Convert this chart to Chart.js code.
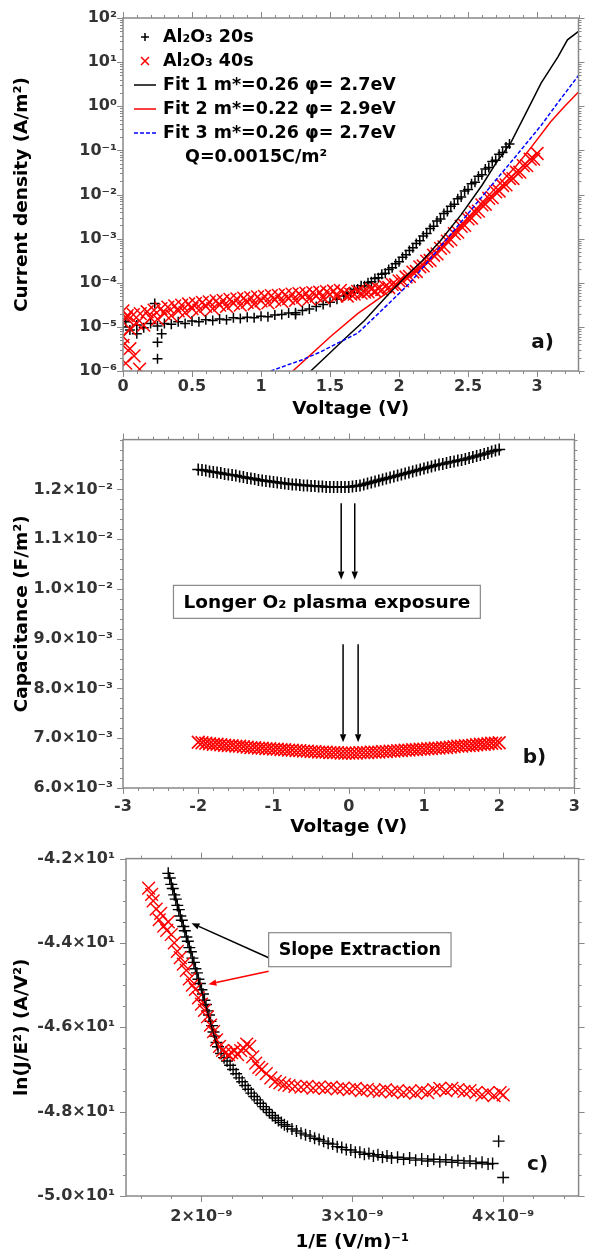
<!DOCTYPE html>
<html>
<head>
<meta charset="utf-8">
<script src="https://cdn.jsdelivr.net/npm/chart.js@4"></script>
<style>
  body { margin: 0; background: #fff; }
  .panel { position: absolute; left: 0; width: 589px; height: 420px; }
</style>
</head>
<body>
<div class="panel" style="top:0"><canvas id="chartA" width="589" height="420"></canvas></div>
<div class="panel" style="top:420px"><canvas id="chartB" width="589" height="420"></canvas></div>
<div class="panel" style="top:838px"><canvas id="chartC" width="589" height="420"></canvas></div>
<script>
// ---- a) J-V, Al2O3 20s / 40s with Fowler-Nordheim fits ----
const vA20 = [0, 0.05, 0.1, 0.15, 0.2, 0.25, 0.3, 0.35, 0.4, 0.45, 0.5, 0.55, 0.6, 0.65, 0.7, 0.75, 0.8, 0.85, 0.9, 0.95,
  1.0, 1.05, 1.1, 1.15, 1.2, 1.25, 1.3, 1.35, 1.4, 1.45, 1.5, 1.55, 1.6, 1.65, 1.7, 1.75, 1.8, 1.85, 1.9, 1.95,
  2.0, 2.05, 2.1, 2.15, 2.2, 2.25, 2.3, 2.35, 2.4, 2.45, 2.5, 2.55, 2.6, 2.65, 2.7, 2.75, 2.8,
  1.625, 1.675, 1.725, 1.775, 1.825, 1.875, 1.925, 1.975, 2.025, 2.075, 2.125, 2.175, 2.225, 2.275, 2.325, 2.375,
  2.425, 2.475, 2.525, 2.575, 2.625, 2.675, 2.725, 2.775,
  0.23, 0.25, 0.25, 1.25, 0.02, 0.28, 0.1]
const jA20 = [1.0e-5, 8.5e-6, 1.1e-5, 9.5e-6, 1.2e-5, 1.05e-5, 1.2e-5, 1.15e-5, 1.3e-5, 1.2e-5, 1.35e-5, 1.3e-5, 1.45e-5, 1.4e-5, 1.5e-5, 1.45e-5, 1.6e-5, 1.55e-5, 1.65e-5, 1.6e-5,
  1.75e-5, 1.7e-5, 1.85e-5, 1.9e-5, 2.05e-5, 2.1e-5, 2.35e-5, 2.55e-5, 2.9e-5, 3.2e-5, 3.6e-5, 4.2e-5, 5.0e-5, 6.0e-5, 7.2e-5, 8.5e-5, 1.05e-4, 1.3e-4, 1.65e-4, 2.2e-4,
  3.0e-4, 4.3e-4, 6.2e-4, 9.0e-4, 1.3e-3, 1.9e-3, 2.8e-3, 4.1e-3, 6.0e-3, 8.8e-3, 1.3e-2, 1.9e-2, 2.8e-2, 4.1e-2, 6.0e-2, 9.0e-2, 1.4e-1,
  5.8e-5, 7.0e-5, 8.6e-5, 1.0e-4, 1.25e-4, 1.55e-4, 2.0e-4, 2.7e-4, 3.8e-4, 5.4e-4, 7.8e-4, 1.15e-3, 1.7e-3, 2.5e-3, 3.7e-3, 5.4e-3,
  8.0e-3, 1.2e-2, 1.75e-2, 2.6e-2, 3.8e-2, 5.6e-2, 8.2e-2, 1.2e-1,
  3.4e-5, 1.9e-6, 4.5e-6, 1.9e-5, 1.3e-5, 7e-6, 7e-6]
const vA40 = [0, 0.05, 0.1, 0.15, 0.2, 0.25, 0.3, 0.35, 0.4, 0.45, 0.5, 0.55, 0.6, 0.65, 0.7, 0.75, 0.8, 0.85, 0.9, 0.95,
  1.0, 1.05, 1.1, 1.15, 1.2, 1.25, 1.3, 1.35, 1.4, 1.45, 1.5, 1.55, 1.6, 1.65, 1.7, 1.75, 1.8, 1.85, 1.9, 1.95,
  2.0, 2.05, 2.1, 2.15, 2.2, 2.25, 2.3, 2.35, 2.4, 2.45, 2.5, 2.55, 2.6, 2.65, 2.7, 2.75, 2.8, 2.85, 2.9, 2.95, 3.0,
  0.025, 0.075, 0.125, 0.175, 0.225, 0.275, 0.325, 0.375, 0.425, 0.475, 0.525, 0.575, 0.625, 0.675, 0.725, 0.775,
  0.825, 0.875, 0.925, 0.975, 1.025, 1.075, 1.125, 1.175, 1.225, 1.275, 1.325, 1.375, 1.425, 1.475, 1.525, 1.575,
  1.625, 1.675, 1.725, 1.775, 1.825, 1.875, 1.925, 1.975, 2.025, 2.075, 2.125, 2.175, 2.225, 2.275,
  2.325, 2.375, 2.425, 2.475, 2.525, 2.575, 2.625, 2.675, 2.725, 2.775, 2.825, 2.875, 2.925, 2.975,
  0.0, 0.02, 0.12, 0.05, 0.0, 0.03, 0.08]
const jA40 = [6.0e-6, 9.0e-6, 1.2e-5, 1.1e-5, 1.6e-5, 1.5e-5, 2.0e-5, 1.8e-5, 2.3e-5, 2.1e-5, 2.6e-5, 2.4e-5, 2.9e-5, 2.6e-5, 3.1e-5, 2.9e-5, 3.4e-5, 3.1e-5, 3.6e-5, 3.3e-5,
  3.9e-5, 3.5e-5, 4.1e-5, 3.8e-5, 4.4e-5, 4.0e-5, 4.7e-5, 4.3e-5, 5.0e-5, 4.6e-5, 5.4e-5, 5.0e-5, 5.8e-5, 5.5e-5, 6.4e-5, 6.1e-5, 7.1e-5, 7.3e-5, 8.2e-5, 9.2e-5,
  1.1e-4, 1.35e-4, 1.75e-4, 2.3e-4, 3.1e-4, 4.2e-4, 6.0e-4, 8.8e-4, 1.3e-3, 1.9e-3, 2.8e-3, 4.0e-3, 5.8e-3, 8.2e-3, 1.15e-2, 1.6e-2, 2.3e-2, 3.2e-2, 4.5e-2, 6.3e-2, 8.5e-2,
  1.6e-5, 1.9e-5, 2.0e-5, 2.2e-5, 2.4e-5, 2.6e-5, 2.8e-5, 3.0e-5, 3.1e-5, 3.3e-5, 3.4e-5, 3.6e-5, 3.7e-5, 3.9e-5, 4.0e-5, 4.2e-5,
  4.3e-5, 4.5e-5, 4.6e-5, 4.8e-5, 4.9e-5, 5.1e-5, 5.2e-5, 5.4e-5, 5.5e-5, 5.7e-5, 5.8e-5, 6.0e-5, 6.1e-5, 6.3e-5, 6.5e-5, 6.7e-5,
  5.0e-5, 5.5e-5, 5.8e-5, 6.2e-5, 6.5e-5, 7.0e-5, 7.8e-5, 9.0e-5, 1.1e-4, 1.4e-4, 1.8e-4, 2.4e-4, 3.2e-4, 4.5e-4,
  6.5e-4, 9.5e-4, 1.4e-3, 2.0e-3, 2.9e-3, 4.2e-3, 6.0e-3, 8.5e-3, 1.2e-2, 1.65e-2, 2.3e-2, 3.2e-2, 4.5e-2, 6.3e-2,
  2.3e-5, 1.5e-6, 1.1e-6, 3.2e-6, 3.8e-6, 1.8e-5, 2.2e-6]
const fit1V = [1.36, 1.5, 1.62, 1.75, 1.93, 2.05, 2.17, 2.3, 2.45, 2.6, 2.7, 2.81, 2.93, 3.03, 3.15, 3.22, 3.3]
const fit1J = [1e-6, 2.6e-6, 5.9e-6, 1.4e-5, 5.8e-5, 1.4e-4, 3.2e-4, 9e-4, 3.5e-3, 1.6e-2, 5e-2, 0.15, 0.82, 3.4, 13, 32, 50]
const fit2V = [1.23, 1.5, 1.7, 1.91, 2.1, 2.3, 2.5, 2.7, 2.85, 2.96, 3.1, 3.2, 3.3]
const fit2J = [1e-6, 5.9e-6, 2e-5, 5.8e-5, 2e-4, 7e-4, 3e-3, 1.4e-2, 4.5e-2, 0.12, 0.45, 1.0, 2.1]
const fit3V = [1.07, 1.2, 1.3, 1.43, 1.55, 1.7, 1.85, 2.0, 2.08, 2.3, 2.5, 2.7, 2.84, 3.03, 3.15, 3.3]
const fit3J = [1e-6, 1.4e-6, 1.8e-6, 2.7e-6, 4.2e-6, 7.2e-6, 2e-5, 5.7e-5, 1e-4, 6.6e-4, 3.7e-3, 2.1e-2, 7e-2, 0.37, 1.2, 5]
const ticksAx = [0, 0.5, 1, 1.5, 2, 2.5, 3]
const ticksAy = [1e-6, 1e-5, 1e-4, 1e-3, 1e-2, 1e-1, 1, 10, 100]

// ---- b) C-V ----
const vB = [-2.0, -1.95, -1.9, -1.85, -1.8, -1.75, -1.7, -1.65, -1.6, -1.55, -1.5, -1.45, -1.4, -1.35, -1.3, -1.25, -1.2, -1.15, -1.1, -1.05,
  -1.0, -0.95, -0.9, -0.85, -0.8, -0.75, -0.7, -0.65, -0.6, -0.55, -0.5, -0.45, -0.4, -0.35, -0.3, -0.25, -0.2, -0.15, -0.1, -0.05,
  0, 0.05, 0.1, 0.15, 0.2, 0.25, 0.3, 0.35, 0.4, 0.45, 0.5, 0.55, 0.6, 0.65, 0.7, 0.75, 0.8, 0.85, 0.9, 0.95,
  1.0, 1.05, 1.1, 1.15, 1.2, 1.25, 1.3, 1.35, 1.4, 1.45, 1.5, 1.55, 1.6, 1.65, 1.7, 1.75, 1.8, 1.85, 1.9, 1.95, 2.0]
const cB20 = [0.01240, 0.01239, 0.01238, 0.01236, 0.01235, 0.01234, 0.01233, 0.01231, 0.01230, 0.01229, 0.01228, 0.01226, 0.01225, 0.01223, 0.01222, 0.01221, 0.01219, 0.01218, 0.01217, 0.01216,
  0.01215, 0.01214, 0.01213, 0.01212, 0.01211, 0.01210, 0.01210, 0.01209, 0.01208, 0.01208, 0.01207, 0.01207, 0.01206, 0.01206, 0.01205, 0.01205, 0.01205, 0.01205, 0.01205, 0.01205,
  0.01205, 0.01206, 0.01207, 0.01208, 0.01210, 0.01212, 0.01214, 0.01216, 0.01218, 0.01220, 0.01222, 0.01224, 0.01226, 0.01228, 0.01230, 0.01232, 0.01234, 0.01236, 0.01238, 0.01240,
  0.01242, 0.01244, 0.01246, 0.01248, 0.01250, 0.01251, 0.01253, 0.01255, 0.01256, 0.01258, 0.01259, 0.01261, 0.01263, 0.01265, 0.01267, 0.01269, 0.01271, 0.01273, 0.01276, 0.01278, 0.01280]
const cB40 = [0.00692, 0.00691, 0.00690, 0.00689, 0.00688, 0.00688, 0.00687, 0.00686, 0.00685, 0.00685, 0.00684, 0.00684, 0.00683, 0.00682, 0.00681, 0.00681, 0.00680, 0.00680, 0.00679, 0.00679,
  0.00678, 0.00678, 0.00677, 0.00677, 0.00676, 0.00676, 0.00675, 0.00675, 0.00674, 0.00674, 0.00673, 0.00673, 0.00672, 0.00672, 0.00672, 0.00671, 0.00671, 0.00671, 0.00670, 0.00670,
  0.00670, 0.00670, 0.00670, 0.00671, 0.00671, 0.00671, 0.00672, 0.00672, 0.00672, 0.00673, 0.00673, 0.00674, 0.00674, 0.00675, 0.00675, 0.00676, 0.00676, 0.00677, 0.00677, 0.00678,
  0.00678, 0.00679, 0.00679, 0.00680, 0.00680, 0.00681, 0.00681, 0.00682, 0.00683, 0.00684, 0.00684, 0.00685, 0.00685, 0.00686, 0.00687, 0.00688, 0.00688, 0.00689, 0.00690, 0.00690, 0.00691]
const ticksBx = [-3, -2, -1, 0, 1, 2, 3]
const ticksBy = [0.006, 0.007, 0.008, 0.009, 0.010, 0.011, 0.012]

// ---- c) FN plot, 1/E in units of 1e-9 m/V ----
const invE20 = [1.78, 1.79, 1.80, 1.81, 1.82, 1.83, 1.84, 1.85, 1.86, 1.87, 1.88, 1.89, 1.90, 1.91, 1.92, 1.93, 1.94, 1.95, 1.96, 1.97,
  1.98, 1.99, 2.00, 2.01, 2.02, 2.03, 2.04, 2.05, 2.06, 2.07, 2.08, 2.09, 2.10, 2.11,
  2.13, 2.15, 2.17, 2.19, 2.21, 2.23, 2.25, 2.27, 2.29, 2.31, 2.33, 2.35, 2.37, 2.39, 2.41, 2.43, 2.45, 2.47, 2.49, 2.51,
  2.53, 2.55, 2.57, 2.60, 2.63, 2.66, 2.69, 2.72, 2.75, 2.78, 2.81, 2.84, 2.87, 2.90, 2.93, 2.96, 2.99, 3.02, 3.05, 3.08,
  3.11, 3.14, 3.17, 3.20, 3.23, 3.26, 3.30, 3.34, 3.38, 3.42, 3.46, 3.50, 3.54, 3.58, 3.62, 3.66, 3.70, 3.74, 3.78, 3.82,
  3.86, 3.90, 3.93, 3.97, 4.00]
const lnJ20 = [-42.35, -42.46, -42.61, -42.71, -42.86, -42.96, -43.11, -43.21, -43.36, -43.46, -43.61, -43.71, -43.86, -43.96, -44.11, -44.21, -44.36, -44.46, -44.61, -44.71,
  -44.86, -44.96, -45.11, -45.21, -45.36, -45.46, -45.61, -45.71, -45.86, -45.96, -46.11, -46.21, -46.36, -46.46,
  -46.62, -46.72, -46.80, -46.90, -47.00, -47.10, -47.20, -47.29, -47.38, -47.47, -47.56, -47.64, -47.72, -47.80, -47.88, -47.95, -48.02, -48.09, -48.15, -48.21,
  -48.26, -48.31, -48.35, -48.41, -48.46, -48.51, -48.55, -48.58, -48.63, -48.66, -48.70, -48.75, -48.77, -48.83, -48.85, -48.90, -48.91, -48.96, -48.96, -49.01,
  -48.99, -49.05, -49.02, -49.08, -49.05, -49.10, -49.08, -49.13, -49.10, -49.15, -49.12, -49.17, -49.13, -49.19, -49.14, -49.20, -49.16, -49.22, -49.17, -49.23,
  -49.20, -49.24, -49.23, -48.70, -49.56]
const invE40 = [1.65, 1.67, 1.68, 1.70, 1.72, 1.73, 1.75, 1.77, 1.78, 1.80, 1.82, 1.84, 1.86, 1.88, 1.90, 1.92, 1.94, 1.96, 1.98, 2.00,
  2.02, 2.04, 2.06, 2.08, 2.10, 2.12, 2.14, 2.16, 2.18, 2.20, 2.22, 2.24, 2.26, 2.28, 2.30, 2.32, 2.34, 2.36, 2.38, 2.40,
  2.43, 2.46, 2.49, 2.52, 2.55, 2.58, 2.62, 2.66, 2.70, 2.74, 2.78, 2.82, 2.86, 2.90, 2.94, 2.98, 3.02, 3.06, 3.10, 3.14,
  3.18, 3.22, 3.26, 3.30, 3.34, 3.38, 3.42, 3.46, 3.50, 3.54, 3.58, 3.62, 3.66, 3.70, 3.74, 3.78, 3.82, 3.86, 3.90, 3.94, 3.98, 4.00]
const lnJ40 = [-42.70, -42.85, -43.00, -43.20, -43.45, -43.30, -43.60, -43.70, -43.50, -43.80, -44.00, -44.20, -44.35, -44.50, -44.65, -44.85, -45.00, -45.10, -45.30, -45.45,
  -45.60, -45.75, -45.95, -46.10, -46.30, -46.45, -46.55, -46.60, -46.65, -46.60, -46.55, -46.65, -46.55, -46.50, -46.40, -46.45, -46.70, -46.85, -46.95, -47.00,
  -47.10, -47.20, -47.28, -47.32, -47.36, -47.38, -47.40, -47.42, -47.40, -47.44, -47.42, -47.45, -47.42, -47.46, -47.44, -47.48, -47.45, -47.50, -47.47, -47.50,
  -47.52, -47.48, -47.53, -47.50, -47.55, -47.52, -47.56, -47.50, -47.55, -47.48, -47.45, -47.50, -47.45, -47.48, -47.52, -47.50, -47.55, -47.60, -47.55, -47.62, -47.55, -47.60]
const slopeX = [1.78, 1.95, 2.11]
const slopeY = [-42.30, -44.45, -46.55]
const ticksCx = [2, 3, 4]
const ticksCy = [-50, -48, -46, -44, -42]

const FONT = '"DejaVu Sans", sans-serif'
Chart.defaults.font.family = FONT
Chart.defaults.font.weight = 'bold'
Chart.defaults.color = '#333'

const SUP = {'-': '⁻', '0': '⁰', '1': '¹', '2': '²', '3': '³', '4': '⁴', '5': '⁵', '6': '⁶', '7': '⁷', '8': '⁸', '9': '⁹'}
const sup = s => String(s).split('').map(c => SUP[c] || c).join('')
const pts = (xs, ys, k = 1) => xs.map((x, i) => ({x: x * k, y: ys[i]}))
const fixTicks = vals => s => { s.ticks = vals.map(value => ({value})) }
// minor tick positions only
function steps(a, b, st) {
  const out = []
  for (let i = 0; a + i * st <= b + st * 1e-6; i++) out.push(a + i * st)
  return out
}

function frame(t) {
  return {
    id: 'frame',
    afterDraw(chart) {
      const {ctx, chartArea: a, scales: {x, y}} = chart
      ctx.save()
      ctx.strokeStyle = '#888'
      ctx.lineWidth = 1
      ctx.beginPath()
      const xt = (vals, len) => vals.forEach(v => {
        const p = Math.round(x.getPixelForValue(v)) + 0.5
        if (p < a.left - 1 || p > a.right + 1) return
        ctx.moveTo(p, a.bottom); ctx.lineTo(p, a.bottom + len)
        ctx.moveTo(p, a.top); ctx.lineTo(p, a.top - len)
      })
      const yt = (vals, len) => vals.forEach(v => {
        const p = Math.round(y.getPixelForValue(v)) + 0.5
        if (p < a.top - 1 || p > a.bottom + 1) return
        ctx.moveTo(a.left, p); ctx.lineTo(a.left - len, p)
        ctx.moveTo(a.right, p); ctx.lineTo(a.right + len, p)
      })
      xt(t.xMajor, 6); xt(t.xMinor, 3); yt(t.yMajor, 6); yt(t.yMinor, 3)
      ctx.stroke()
      ctx.lineWidth = 1.5
      ctx.strokeRect(a.left, a.top, a.right - a.left, a.bottom - a.top)
      ctx.fillStyle = '#111'
      ctx.font = `bold 20px ${FONT}`
      ctx.textAlign = 'center'
      ctx.textBaseline = 'middle'
      ctx.fillText(t.tag, a.right - t.tagDx, a.bottom - t.tagDy)
      ctx.restore()
    }
  }
}

function arrow(ctx, x1, y1, x2, y2, color) {
  const ang = Math.atan2(y2 - y1, x2 - x1), h = 8, w = 3.2
  const c = Math.cos(ang), s = Math.sin(ang)
  ctx.strokeStyle = color; ctx.fillStyle = color; ctx.lineWidth = 1.5
  ctx.beginPath(); ctx.moveTo(x1, y1); ctx.lineTo(x2 - h * c, y2 - h * s); ctx.stroke()
  ctx.beginPath(); ctx.moveTo(x2, y2)
  ctx.lineTo(x2 - h * c + w * s, y2 - h * s - w * c)
  ctx.lineTo(x2 - h * c - w * s, y2 - h * s + w * c)
  ctx.closePath(); ctx.fill()
}

function textBox(ctx, cx, cy, text, size, padX, h) {
  ctx.font = `bold ${size}px ${FONT}`
  const w = ctx.measureText(text).width + 2 * padX
  ctx.fillStyle = '#fff'
  ctx.fillRect(cx - w / 2, cy - h / 2, w, h)
  ctx.strokeStyle = '#888'; ctx.lineWidth = 1.2
  ctx.strokeRect(cx - w / 2, cy - h / 2, w, h)
  ctx.fillStyle = '#000'; ctx.textAlign = 'center'; ctx.textBaseline = 'middle'
  ctx.fillText(text, cx, cy + 1)
  return w
}

const axisTitle = (text, padding) => ({display: true, text, color: '#000', font: {size: 18.5, weight: 'bold'}, padding})
const baseAxis = (extra) => Object.assign({
  grid: {display: false, drawTicks: false},
  border: {display: false}
}, extra)
const tickFont = {size: 16, weight: 'bold'}

function baseOptions(padTop, xAxis, yAxis) {
  return {
    responsive: false,
    animation: false,
    events: [],
    layout: {padding: {top: padTop, right: 6, left: 0, bottom: 0}},
    plugins: {legend: {display: false}, tooltip: {enabled: false}},
    scales: {x: xAxis, y: yAxis}
  }
}

// ---------- panel a ----------
const legendA = {
  id: 'legendA',
  afterDraw(chart) {
    const {ctx, chartArea: a} = chart
    ctx.save()
    ctx.font = `bold 17.5px ${FONT}`
    ctx.textBaseline = 'middle'
    ctx.textAlign = 'left'
    chart.data.datasets.forEach((ds, i) => {
      const y = a.top + 19 + i * 24, sx = a.left + 22
      ctx.strokeStyle = ds.borderColor
      ctx.lineWidth = 1.5
      ctx.setLineDash(ds.borderDash || [])
      ctx.beginPath()
      if (ds.showLine) {
        ctx.moveTo(sx - 11, y); ctx.lineTo(sx + 11, y)
      } else if (ds.pointStyle === 'cross') {
        ctx.moveTo(sx - 4, y); ctx.lineTo(sx + 4, y); ctx.moveTo(sx, y - 4); ctx.lineTo(sx, y + 4)
      } else {
        ctx.moveTo(sx - 4, y - 4); ctx.lineTo(sx + 4, y + 4); ctx.moveTo(sx - 4, y + 4); ctx.lineTo(sx + 4, y - 4)
      }
      ctx.stroke()
      ctx.setLineDash([])
      ctx.fillStyle = '#000'
      ctx.fillText(ds.label, a.left + 40, y)
    })
    ctx.fillText('Q=0.0015C/m²', a.left + 62, a.top + 19 + 5 * 24)
    ctx.restore()
  }
}

const logMinor = []
for (let e = -6; e < 2; e++) for (let m = 2; m <= 9; m++) logMinor.push(m * Math.pow(10, e))

new Chart(document.getElementById('chartA'), {
  type: 'scatter',
  data: {
    datasets: [
      {label: 'Al₂O₃ 20s', data: pts(vA20, jA20), pointStyle: 'cross', pointRadius: 5, borderColor: '#000', borderWidth: 1.5, order: 3, clip: 0},
      {label: 'Al₂O₃ 40s', data: pts(vA40, jA40), pointStyle: 'crossRot', pointRadius: 9, borderColor: '#ff0000', borderWidth: 1.5, order: 2, clip: 0},
      {label: 'Fit 1 m*=0.26 φ= 2.7eV', data: pts(fit1V, fit1J), showLine: true, pointRadius: 0, borderColor: '#000', borderWidth: 1.5, order: 1, clip: 0},
      {label: 'Fit 2 m*=0.22 φ= 2.9eV', data: pts(fit2V, fit2J), showLine: true, pointRadius: 0, borderColor: '#ff0000', borderWidth: 1.5, order: 1, clip: 0},
      {label: 'Fit 3 m*=0.26 φ= 2.7eV', data: pts(fit3V, fit3J), showLine: true, pointRadius: 0, borderColor: '#0000ff', borderWidth: 1.5, borderDash: [4, 2], order: 0, clip: 0}
    ]
  },
  options: baseOptions(18,
    baseAxis({
      type: 'linear', min: 0, max: 3.3,
      afterBuildTicks: fixTicks(ticksAx),
      ticks: {autoSkip: false, maxRotation: 0, padding: 6, font: tickFont, callback: v => String(v)},
      title: axisTitle('Voltage (V)', {top: 0, bottom: 0}),
      afterFit: s => { s.height = 49 }
    }),
    baseAxis({
      type: 'logarithmic', min: 1e-6, max: 100,
      afterBuildTicks: fixTicks(ticksAy),
      ticks: {autoSkip: false, padding: 6, font: tickFont, callback: v => '10' + sup(Math.round(Math.log10(v)))},
      title: axisTitle('Current density (A/m²)', {top: 11, bottom: 0}),
      afterFit: s => { s.width = 123 }
    })),
  plugins: [legendA, frame({
    xMajor: ticksAx, xMinor: steps(0, 3.3, 0.1),
    yMajor: ticksAy, yMinor: logMinor,
    tag: 'a)', tagDx: 36, tagDy: 28
  })]
})

// ---------- panel b ----------
const notesB = {
  id: 'notesB',
  afterDatasetsDraw(chart) {
    const {ctx, scales: {x, y}} = chart
    ctx.save()
    ;[[-0.1, 0.01172, 0.01019], [0.08, 0.01172, 0.01019], [-0.075, 0.00889, 0.00692], [0.125, 0.00889, 0.00692]]
      .forEach(([v, c1, c2]) => arrow(ctx, x.getPixelForValue(v), y.getPixelForValue(c1), x.getPixelForValue(v), y.getPixelForValue(c2), '#000'))
    textBox(ctx, x.getPixelForValue(-0.29), y.getPixelForValue(0.00974), 'Longer O₂ plasma exposure', 18.5, 10, 33)
    ctx.restore()
  }
}

new Chart(document.getElementById('chartB'), {
  type: 'scatter',
  data: {
    datasets: [
      {label: 'Al₂O₃ 20s', data: pts(vB, cB20), pointStyle: 'cross', pointRadius: 6, borderColor: '#000', borderWidth: 1.6, order: 2},
      {label: 'Al₂O₃ 40s', data: pts(vB, cB40), pointStyle: 'crossRot', pointRadius: 9, borderColor: '#ff0000', borderWidth: 1.6, order: 1}
    ]
  },
  options: baseOptions(16,
    baseAxis({
      type: 'linear', min: -3, max: 3,
      afterBuildTicks: fixTicks(ticksBx),
      ticks: {autoSkip: false, maxRotation: 0, padding: 9, font: tickFont, callback: v => String(v)},
      title: axisTitle('Voltage (V)', {top: 0, bottom: 2}),
      afterFit: s => { s.height = 52 }
    }),
    baseAxis({
      type: 'linear', min: 0.006, max: 0.013,
      afterBuildTicks: fixTicks(ticksBy),
      ticks: {autoSkip: false, padding: 10, font: tickFont,
        callback: v => {
          const n = Math.round(v * 1e4)
          return n < 100 ? (n / 10).toFixed(1) + '×10' + sup(-3) : (n / 100).toFixed(1) + '×10' + sup(-2)
        }},
      title: axisTitle('Capacitance (F/m²)', {top: 11, bottom: 0}),
      afterFit: s => { s.width = 123 }
    })),
  plugins: [notesB, frame({
    xMajor: ticksBx, xMinor: steps(-3, 3, 0.2),
    yMajor: ticksBy, yMinor: steps(0.006, 0.013, 0.0002),
    tag: 'b)', tagDx: 40, tagDy: 30
  })]
})

// ---------- panel c ----------
const notesC = {
  id: 'notesC',
  afterDatasetsDraw(chart) {
    const {ctx, scales: {x, y}} = chart
    ctx.save()
    const cx = x.getPixelForValue(3.05e-9), cy = y.getPixelForValue(-44.16)
    ctx.font = `bold 17.5px ${FONT}`
    const w = ctx.measureText('Slope Extraction').width + 20
    const left = cx - w / 2
    arrow(ctx, left, y.getPixelForValue(-44.35), x.getPixelForValue(1.934e-9), y.getPixelForValue(-43.53), '#000')
    arrow(ctx, left, y.getPixelForValue(-44.67), x.getPixelForValue(2.046e-9), y.getPixelForValue(-44.98), '#ff0000')
    textBox(ctx, cx, cy, 'Slope Extraction', 17.5, 10, 34)
    ctx.restore()
  }
}

new Chart(document.getElementById('chartC'), {
  type: 'scatter',
  data: {
    datasets: [
      {label: 'Al₂O₃ 20s', data: pts(invE20, lnJ20, 1e-9), pointStyle: 'cross', pointRadius: 6, borderColor: '#000', borderWidth: 1.4, order: 2},
      {label: 'Al₂O₃ 40s', data: pts(invE40, lnJ40, 1e-9), pointStyle: 'crossRot', pointRadius: 9, borderColor: '#ff0000', borderWidth: 1.4, order: 1},
      {label: 'Slope', data: pts(slopeX, slopeY, 1e-9), showLine: true, pointRadius: 0, borderColor: '#000', borderWidth: 1.2, order: 0}
    ]
  },
  options: baseOptions(14,
    baseAxis({
      type: 'linear', min: 1.5e-9, max: 4.5e-9,
      afterBuildTicks: fixTicks(ticksCx.map(v => v * 1e-9)),
      ticks: {autoSkip: false, maxRotation: 0, padding: 11, font: tickFont,
        callback: v => Math.round(v * 1e9) + '×10' + sup(-9)},
      title: axisTitle('1/E (V/m)' + sup(-1), {top: 0, bottom: 5}),
      afterFit: s => { s.height = 62 }
    }),
    baseAxis({
      type: 'linear', min: -50, max: -42,
      afterBuildTicks: fixTicks(ticksCy),
      ticks: {autoSkip: false, padding: 11, font: tickFont,
        callback: v => (v / 10).toFixed(1) + '×10' + sup(1)},
      title: axisTitle('ln(J/E²) (A/V²)', {top: 11, bottom: 0}),
      afterFit: s => { s.width = 126 }
    })),
  plugins: [notesC, frame({
    xMajor: ticksCx.map(v => v * 1e-9), xMinor: steps(1.6e-9, 4.4e-9, 0.2e-9),
    yMajor: ticksCy, yMinor: steps(-50, -42, 0.5),
    tag: 'c)', tagDx: 41, tagDy: 31
  })]
})
</script>
</body>
</html>
